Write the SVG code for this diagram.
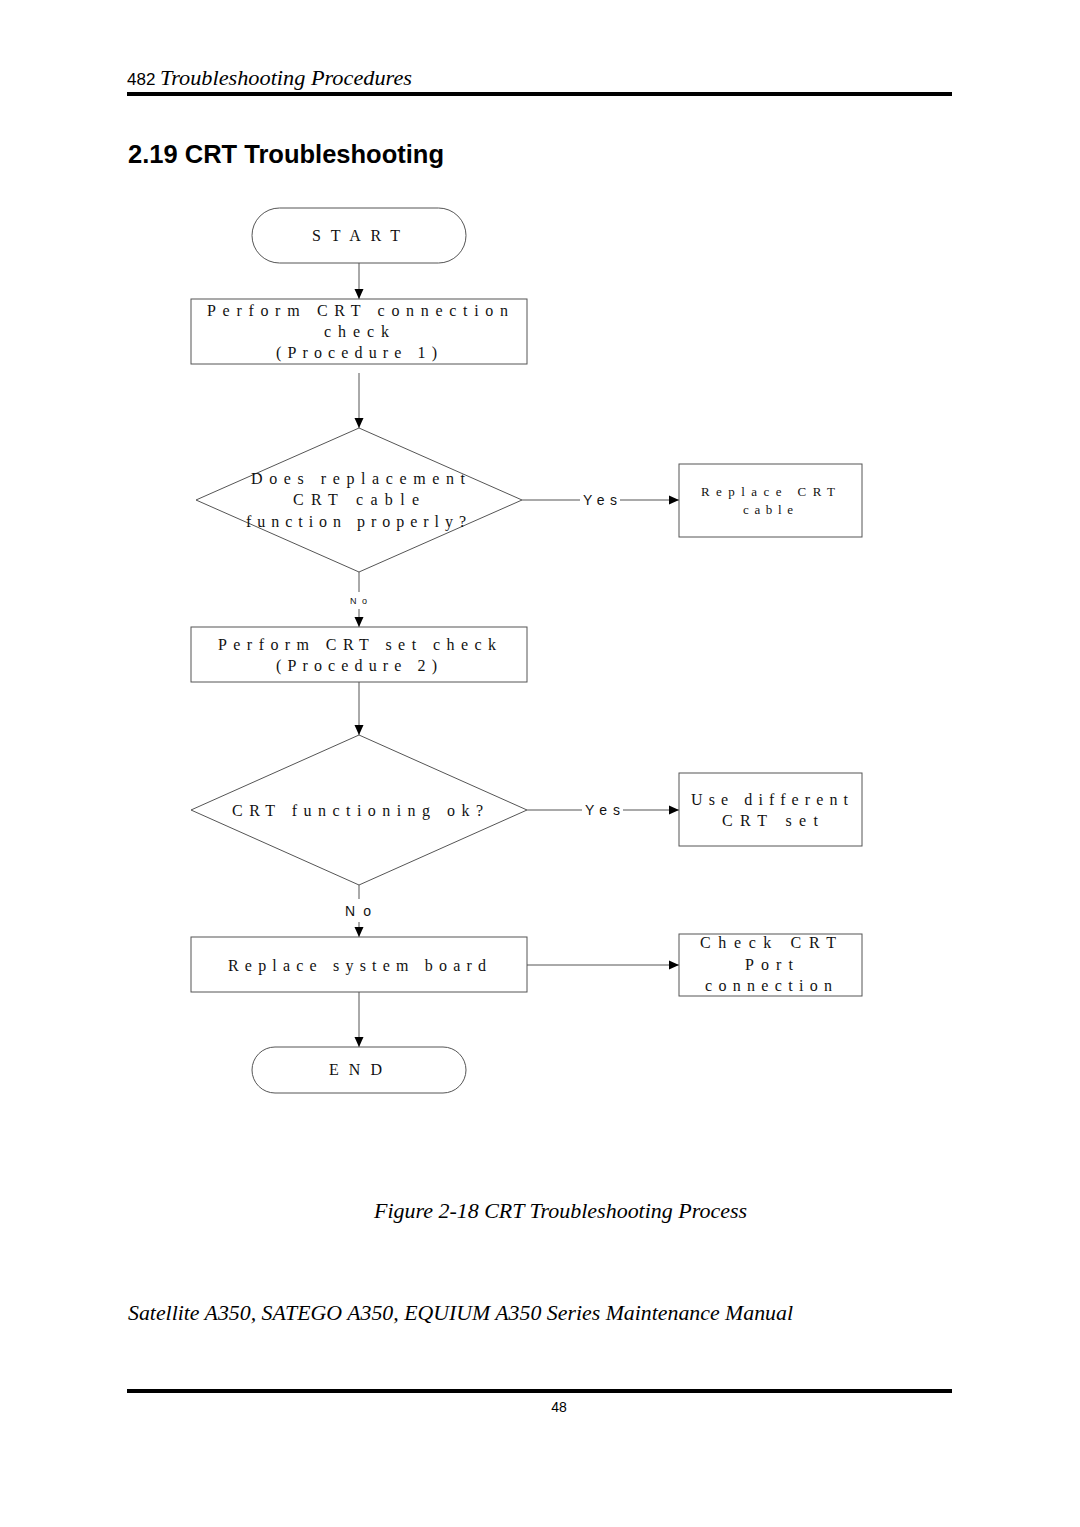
<svg xmlns="http://www.w3.org/2000/svg" width="1080" height="1527" viewBox="0 0 1080 1527">
<style>
.bg{fill:#fff}
.shape{fill:#fff;stroke:#555;stroke-width:1}
.conn{fill:none;stroke:#555;stroke-width:1}
.t{font-family:"Liberation Serif","Times New Roman",serif;font-size:16px;fill:#111}
.ts{font-family:"Liberation Serif","Times New Roman",serif;font-size:13px;fill:#111}
.lbl{font-family:"Liberation Sans",Arial,sans-serif;font-size:14px;fill:#111}
.rule{stroke:#000;stroke-width:4}
.it{font-family:"Liberation Serif","Times New Roman",serif;font-style:italic;font-size:21px;fill:#000}
</style>
<defs>
<marker id="arr" markerUnits="userSpaceOnUse" markerWidth="10" markerHeight="10" refX="10" refY="5" orient="auto">
<path d="M0,0.5 L10,5 L0,9.5 z" fill="#000"/>
</marker>
</defs>
<rect class="bg" x="0" y="0" width="1080" height="1527"/>

<g id="header">
<text x="127" y="85" font-family="Liberation Sans,Arial,sans-serif" font-size="17" fill="#000">482</text>
<text x="160" y="85" class="it" textLength="252" lengthAdjust="spacingAndGlyphs">Troubleshooting Procedures</text>
<line class="rule" x1="127" y1="94" x2="952" y2="94"/>
<text x="128" y="163" font-family="Liberation Sans,Arial,sans-serif" font-weight="bold" font-size="25" fill="#000" textLength="316" lengthAdjust="spacingAndGlyphs">2.19 CRT Troubleshooting</text>
</g>

<g id="connectors">
<line class="conn" x1="359" y1="263" x2="359" y2="299" marker-end="url(#arr)"/>
<line class="conn" x1="359" y1="373" x2="359" y2="428" marker-end="url(#arr)"/>
<line class="conn" x1="522" y1="500" x2="580" y2="500"/>
<text class="lbl" x="583" y="505" textLength="34" lengthAdjust="spacing">Yes</text>
<line class="conn" x1="620" y1="500" x2="679" y2="500" marker-end="url(#arr)"/>
<line class="conn" x1="359" y1="572" x2="359" y2="592"/>
<text class="lbl" x="350" y="604" style="font-size:9px" textLength="17" lengthAdjust="spacing">No</text>
<line class="conn" x1="359" y1="609" x2="359" y2="627" marker-end="url(#arr)"/>
<line class="conn" x1="359" y1="682" x2="359" y2="735" marker-end="url(#arr)"/>
<line class="conn" x1="527" y1="810" x2="582" y2="810"/>
<text class="lbl" x="585" y="815" textLength="35" lengthAdjust="spacing">Yes</text>
<line class="conn" x1="623" y1="810" x2="679" y2="810" marker-end="url(#arr)"/>
<line class="conn" x1="359" y1="885" x2="359" y2="899"/>
<text class="lbl" x="345" y="916" style="font-size:14px" textLength="26" lengthAdjust="spacing">No</text>
<line class="conn" x1="359" y1="922" x2="359" y2="937" marker-end="url(#arr)"/>
<line class="conn" x1="527" y1="965" x2="679" y2="965" marker-end="url(#arr)"/>
<line class="conn" x1="359" y1="992" x2="359" y2="1047" marker-end="url(#arr)"/>
</g>

<g id="start">
<rect class="shape" x="252" y="208" width="214" height="55" rx="27.5" ry="27.5"/>
<text class="t" x="312" y="241" textLength="88" lengthAdjust="spacing">START</text>
</g>

<g id="box1">
<rect class="shape" x="191" y="299" width="336" height="65"/>
<text class="t" x="207" y="316" textLength="301" lengthAdjust="spacing">Perform  CRT  connection</text>
<text class="t" x="324" y="337" textLength="65" lengthAdjust="spacing">check</text>
<text class="t" x="276" y="358" textLength="161" lengthAdjust="spacing">(Procedure 1)</text>
</g>

<g id="decision1">
<polygon class="shape" points="359,428 522,500 359,572 196,500"/>
<text class="t" x="251" y="484" textLength="214" lengthAdjust="spacing">Does replacement</text>
<text class="t" x="293" y="505" textLength="126" lengthAdjust="spacing">CRT cable</text>
<text class="t" x="246" y="527" textLength="220" lengthAdjust="spacing">function properly?</text>
</g>

<g id="replace-cable">
<rect class="shape" x="679" y="464" width="183" height="73"/>
<text class="ts" x="701" y="496" textLength="134" lengthAdjust="spacing">Replace CRT</text>
<text class="ts" x="743" y="514" textLength="50" lengthAdjust="spacing">cable</text>
</g>

<g id="box2">
<rect class="shape" x="191" y="627" width="336" height="55"/>
<text class="t" x="218" y="650" textLength="278" lengthAdjust="spacing">Perform  CRT  set check</text>
<text class="t" x="276" y="671" textLength="161" lengthAdjust="spacing">(Procedure 2)</text>
</g>

<g id="decision2">
<polygon class="shape" points="359,735 527,810 359,885 191,810"/>
<text class="t" x="232" y="816" textLength="251" lengthAdjust="spacing">CRT  functioning  ok?</text>
</g>

<g id="different-set">
<rect class="shape" x="679" y="773" width="183" height="73"/>
<text class="t" x="691" y="805" textLength="157" lengthAdjust="spacing">Use different</text>
<text class="t" x="722" y="826" textLength="96" lengthAdjust="spacing">CRT set</text>
</g>

<g id="box3">
<rect class="shape" x="191" y="937" width="336" height="55"/>
<text class="t" x="228" y="971" textLength="258" lengthAdjust="spacing">Replace system  board</text>
</g>

<g id="check-port">
<rect class="shape" x="679" y="934" width="183" height="62"/>
<text class="t" x="700" y="948" textLength="136" lengthAdjust="spacing">Check CRT</text>
<text class="t" x="745" y="970" textLength="48" lengthAdjust="spacing">Port</text>
<text class="t" x="705" y="991" textLength="127" lengthAdjust="spacing">connection</text>
</g>

<g id="end">
<rect class="shape" x="252" y="1047" width="214" height="46" rx="23" ry="23"/>
<text class="t" x="329" y="1075" textLength="53" lengthAdjust="spacing">END</text>
</g>

<g id="footer">
<text class="it" x="374" y="1218" textLength="373" lengthAdjust="spacingAndGlyphs">Figure 2-18 CRT Troubleshooting Process</text>
<text class="it" x="128" y="1320" textLength="665" lengthAdjust="spacingAndGlyphs">Satellite A350, SATEGO A350, EQUIUM A350 Series Maintenance Manual</text>
<line class="rule" x1="127" y1="1391" x2="952" y2="1391"/>
<text x="559" y="1412" text-anchor="middle" font-family="Liberation Sans,Arial,sans-serif" font-size="14" fill="#000">48</text>
</g>
</svg>
